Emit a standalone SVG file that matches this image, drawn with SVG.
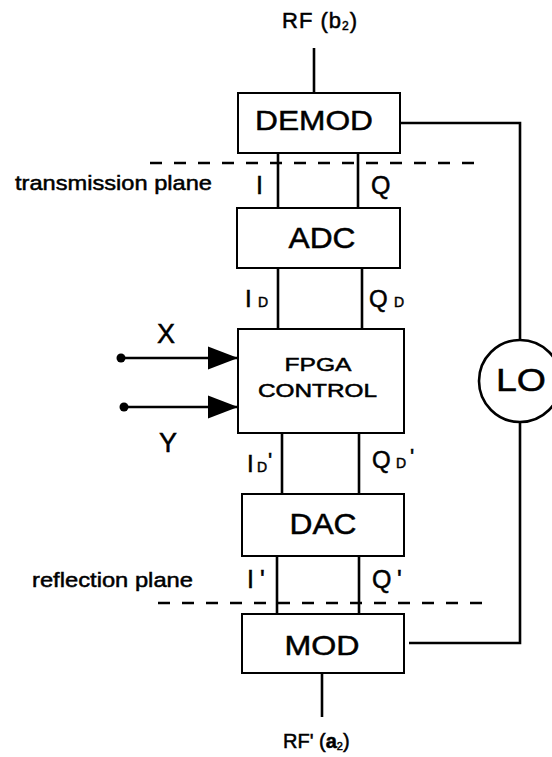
<svg xmlns="http://www.w3.org/2000/svg" width="552" height="757" viewBox="0 0 552 757">
<style>
text{font-family:"Liberation Sans",Arial,sans-serif;fill:#000;stroke:#000;stroke-width:0.5}
.box{fill:#fff;stroke:#000;stroke-width:2}
.ln{fill:none;stroke:#000;stroke-width:2.6}
.dash{fill:none;stroke:#000;stroke-width:2.4;stroke-dasharray:12 12}
.bl{text-anchor:middle}
</style>
<defs>
<marker id="ah" markerUnits="userSpaceOnUse" markerWidth="31" markerHeight="24" refX="30" refY="12" orient="auto">
<polygon points="0,0.5 30,12 0,23.5" fill="#000"/>
</marker>
</defs>
<rect width="552" height="757" fill="#fff"/>
<g id="connectors">
<line class="ln" x1="314" y1="48" x2="314" y2="93"/>
<line class="ln" x1="278" y1="153" x2="278" y2="208"/>
<line class="ln" x1="358" y1="153" x2="358" y2="208"/>
<line class="ln" x1="278" y1="268" x2="278" y2="329"/>
<line class="ln" x1="362" y1="268" x2="362" y2="329"/>
<line class="ln" x1="282" y1="433" x2="282" y2="494"/>
<line class="ln" x1="359" y1="433" x2="359" y2="494"/>
<line class="ln" x1="277" y1="556" x2="277" y2="614"/>
<line class="ln" x1="359" y1="556" x2="359" y2="614"/>
<line class="ln" x1="322" y1="673" x2="322" y2="717"/>
<path class="ln" d="M400 123 H520 V340"/>
<path class="ln" d="M520 422 V643 H409"/>
<circle cx="121" cy="358" r="4.5" fill="#000"/>
<line class="ln" x1="121" y1="358" x2="238" y2="358" marker-end="url(#ah)"/>
<circle cx="124" cy="407" r="4.5" fill="#000"/>
<line class="ln" x1="124" y1="407" x2="238" y2="407" marker-end="url(#ah)"/>
</g>
<g id="planes">
<line class="dash" x1="150" y1="163" x2="477" y2="163"/>
<text x="15" y="190" font-size="21" textLength="197" lengthAdjust="spacingAndGlyphs">transmission plane</text>
<line class="dash" x1="158" y1="603" x2="484" y2="603"/>
<text x="32" y="587" font-size="21" textLength="161" lengthAdjust="spacingAndGlyphs">reflection plane</text>
</g>
<g id="rf-in">
<text x="282" y="28" font-size="22" letter-spacing="1">RF (b<tspan font-size="12" dy="2">2</tspan><tspan dy="-2">)</tspan></text>
</g>
<g id="demod">
<rect class="box" x="238" y="93" width="162" height="60"/>
<text class="bl" x="314" y="130" font-size="28" textLength="118" lengthAdjust="spacingAndGlyphs">DEMOD</text>
</g>
<g id="adc">
<rect class="box" x="237" y="208" width="163" height="60"/>
<text class="bl" x="322" y="248" font-size="30" textLength="67" lengthAdjust="spacingAndGlyphs">ADC</text>
</g>
<g id="fpga">
<rect class="box" x="238" y="329" width="166" height="104"/>
<text class="bl" x="318" y="371" font-size="19" textLength="67" lengthAdjust="spacingAndGlyphs">FPGA</text>
<text class="bl" x="317.5" y="397" font-size="19" textLength="119" lengthAdjust="spacingAndGlyphs">CONTROL</text>
</g>
<g id="dac">
<rect class="box" x="242" y="494" width="162" height="62"/>
<text class="bl" x="323" y="534" font-size="30" textLength="67" lengthAdjust="spacingAndGlyphs">DAC</text>
</g>
<g id="mod">
<rect class="box" x="242" y="614" width="162" height="59"/>
<text class="bl" x="322" y="655" font-size="28" textLength="75" lengthAdjust="spacingAndGlyphs">MOD</text>
</g>
<g id="lo">
<circle cx="520" cy="381" r="41" fill="#fff" stroke="#000" stroke-width="2.6"/>
<text class="bl" x="521" y="391" font-size="32" textLength="50" lengthAdjust="spacingAndGlyphs">LO</text>
</g>
<g id="rf-out">
<text x="283" y="748" font-size="20">RF' (<tspan font-weight="bold">a</tspan><tspan font-size="11" dy="2">2</tspan><tspan dy="-2">)</tspan></text>
</g>
<g id="inputs">
<text class="bl" x="166" y="343" font-size="27">X</text>
<text class="bl" x="168" y="452" font-size="27">Y</text>
</g>
<g id="signal-labels">
<text x="256" y="194" font-size="25" stroke-width="1.2">I</text>
<text x="371" y="194" font-size="25">Q</text>
<text x="245" y="307" font-size="24" stroke-width="1.2">I</text>
<text x="258" y="307" font-size="14">D</text>
<text x="369" y="307" font-size="24">Q</text>
<text x="394" y="307" font-size="14">D</text>
<text x="247" y="472" font-size="24" stroke-width="1.2">I</text>
<text x="257" y="472" font-size="14">D</text>
<text x="268" y="468" font-size="22">'</text>
<text x="372" y="468" font-size="24">Q</text>
<text x="396" y="468" font-size="14">D</text>
<text x="410" y="464" font-size="22">'</text>
<text x="247" y="588" font-size="25" stroke-width="1.2">I</text>
<text x="260" y="588" font-size="25">'</text>
<text x="372" y="588" font-size="25">Q</text>
<text x="397" y="588" font-size="25">'</text>
</g>
</svg>
